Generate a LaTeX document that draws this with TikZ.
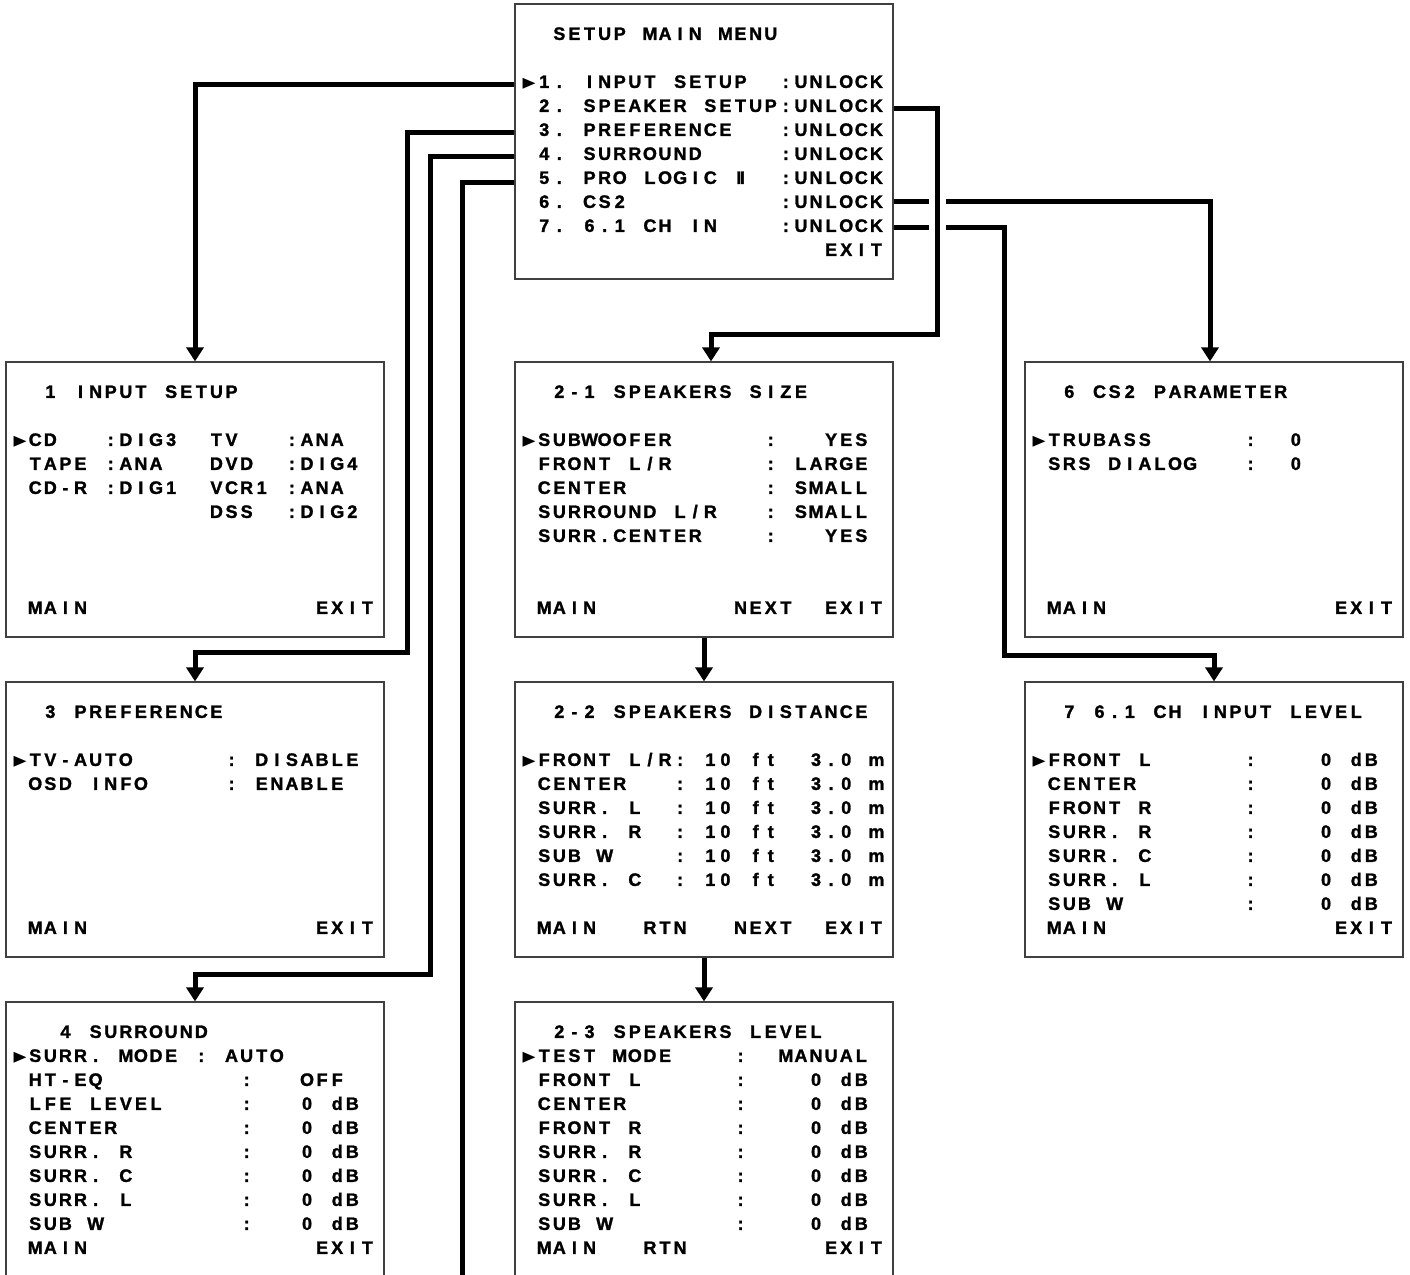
\documentclass[tikz,border=0pt]{standalone}
\usepackage{graphicx}
\usepackage{fontspec}
\newfontfamily\osdfamily{Liberation Sans Bold}[FakeBold=1.5]
\newfontfamily\osdptrfamily{DejaVu Sans}
\usetikzlibrary{arrows.meta,calc}

% one OSD character cell
\newlength\osdpitch
\setlength\osdpitch{15.1pt}
\newcommand\osdII{I\kern-1.5pt I}
\newcommand\osdpointer{\raisebox{0.5pt}{\resizebox*{13pt}{11pt}{\osdptrfamily ▶}}}
\makeatletter
\def\osd@end{osd@end}
\let\osd@ptr=►
\def\osd@loop#1{%
  \ifx#1\osd@end
  \else
    \ifx#1_\hspace*{\osdpitch}%
    \else\ifx#1\osd@ptr
      \makebox[\osdpitch][c]{\osdpointer}%
    \else\makebox[\osdpitch][c]{#1}\fi\fi
    \expandafter\osd@loop
  \fi}
\newcommand\osdline[1]{\expandafter\osd@loop#1\osd@end}
\makeatother

% rows of one screen, _ is an empty cell
\newcommand\osdrows[2]{%
  \foreach \txt [count=\row from 0] in {#2}{%
    \node[osd] (#1-\row) at ($(#1.north west)+(7,36.5+24*\row)$) {\osdline{\txt}};
  }}

\begin{document}
\begin{tikzpicture}[x=1pt, y=-1pt,
    screen/.style={draw=black!75, line width=1.2pt, minimum width=378pt,
      minimum height=275pt, inner sep=0pt},
    osd/.style={anchor=base west, inner sep=0pt,
      font=\osdfamily\fontsize{18}{24}\selectfont},
    wire/.style={line width=5pt},
    wirearrow/.style={wire, -{Triangle[width=17pt,length=14pt]}}]
  \useasboundingbox (0,0) rectangle (1410,1274);

  % screens
  \node[screen] (main)  at (704,141.5) {};
  \node[screen] (input) at (195,499.5) {};
  \node[screen] (pref)  at (195,819.5) {};
  \node[screen] (surr)  at (195,1139.5) {};
  \node[screen] (size)  at (704,499.5) {};
  \node[screen] (dist)  at (704,819.5) {};
  \node[screen] (level) at (704,1139.5) {};
  \node[screen] (cs2)   at (1214,499.5) {};
  \node[screen] (ch61)  at (1214,819.5) {};

  \osdrows{main}{__SETUP_MAIN_MENU, {},
    ►1._INPUT_SETUP__:UNLOCK,
    _2._SPEAKER_SETUP:UNLOCK,
    _3._PREFERENCE___:UNLOCK,
    _4._SURROUND_____:UNLOCK,
    _5._PRO_LOGIC_{\osdII}__:UNLOCK,
    _6._CS2__________:UNLOCK,
    _7._6.1_CH_IN____:UNLOCK,
    ____________________EXIT}

  \osdrows{input}{__1_INPUT_SETUP, {},
    ►CD___:DIG3__TV___:ANA,
    _TAPE_:ANA___DVD__:DIG4,
    _CD-R_:DIG1__VCR1_:ANA,
    _____________DSS__:DIG2,
    {}, {}, {},
    _MAIN_______________EXIT}

  \osdrows{pref}{__3_PREFERENCE, {},
    ►TV-AUTO______:_DISABLE,
    _OSD_INFO_____:_ENABLE,
    {}, {}, {}, {}, {},
    _MAIN_______________EXIT}

  \osdrows{surr}{___4_SURROUND,
    ►SURR._MODE_:_AUTO,
    _HT-EQ_________:___OFF,
    _LFE_LEVEL_____:___0_dB,
    _CENTER________:___0_dB,
    _SURR._R_______:___0_dB,
    _SURR._C_______:___0_dB,
    _SURR._L_______:___0_dB,
    _SUB_W_________:___0_dB,
    _MAIN_______________EXIT}

  \osdrows{size}{__2-1_SPEAKERS_SIZE, {},
    ►SUBWOOFER______:___YES,
    _FRONT_L/R______:_LARGE,
    _CENTER_________:_SMALL,
    _SURROUND_L/R___:_SMALL,
    _SURR.CENTER____:___YES,
    {}, {},
    _MAIN_________NEXT__EXIT}

  \osdrows{dist}{__2-2_SPEAKERS_DISTANCE, {},
    ►FRONT_L/R:_10_ft__3.0_m,
    _CENTER___:_10_ft__3.0_m,
    _SURR._L__:_10_ft__3.0_m,
    _SURR._R__:_10_ft__3.0_m,
    _SUB_W____:_10_ft__3.0_m,
    _SURR._C__:_10_ft__3.0_m,
    {},
    _MAIN___RTN___NEXT__EXIT}

  \osdrows{level}{__2-3_SPEAKERS_LEVEL,
    ►TEST_MODE____:__MANUAL,
    _FRONT_L______:____0_dB,
    _CENTER_______:____0_dB,
    _FRONT_R______:____0_dB,
    _SURR._R______:____0_dB,
    _SURR._C______:____0_dB,
    _SURR._L______:____0_dB,
    _SUB_W________:____0_dB,
    _MAIN___RTN_________EXIT}

  \osdrows{cs2}{__6_CS2_PARAMETER, {},
    ►TRUBASS______:__0,
    _SRS_DIALOG___:__0,
    {}, {}, {}, {}, {},
    _MAIN_______________EXIT}

  \osdrows{ch61}{__7_6.1_CH_INPUT_LEVEL, {},
    ►FRONT_L______:____0_dB,
    _CENTER_______:____0_dB,
    _FRONT_R______:____0_dB,
    _SURR._R______:____0_dB,
    _SURR._C______:____0_dB,
    _SURR._L______:____0_dB,
    _SUB_W________:____0_dB,
    _MAIN_______________EXIT}

  % exits of the main menu
  \coordinate (out1) at ($(main.north west)+(0,81)$);
  \coordinate (out3) at ($(main.north west)+(0,129)$);
  \coordinate (out4) at ($(main.north west)+(0,153)$);
  \coordinate (out5) at ($(main.north west)+(0,179)$);
  \coordinate (out2) at ($(main.north east)+(0,105.5)$);
  \coordinate (out6) at ($(main.north east)+(0,198.5)$);
  \coordinate (out7) at ($(main.north east)+(0,224.5)$);
  \coordinate (bend3) at (407,652);
  \coordinate (bend4) at (430,974);
  \coordinate (off5) at (462,1290);
  \coordinate (bend2) at (937.5,334.5);
  \coordinate (bend7) at (1004.5,655);

  \draw[wirearrow] (out1) -| (input.north);
  \draw[wirearrow] (out3) -| (bend3) -| (pref.north);
  \draw[wirearrow] (out4) -| (bend4) -| (surr.north);
  \draw[wire] (out5) -| (off5);
  \draw[wirearrow] (out6) -| ([xshift=-4pt]cs2.north);
  \draw[wirearrow] (out7) -| (bend7) -| (ch61.north);
  \draw[wirearrow] (out2) -| (bend2) -| ([xshift=7pt]size.north);
  \draw[wire, preaction={draw=white, line width=17pt}]
    ($(bend2 |- out6)+(0,-12)$) -- ($(bend2 |- out7)+(0,12)$);
  \draw[wirearrow] (size) -- (dist);
  \draw[wirearrow] (dist) -- (level);
\end{tikzpicture}
\end{document}
